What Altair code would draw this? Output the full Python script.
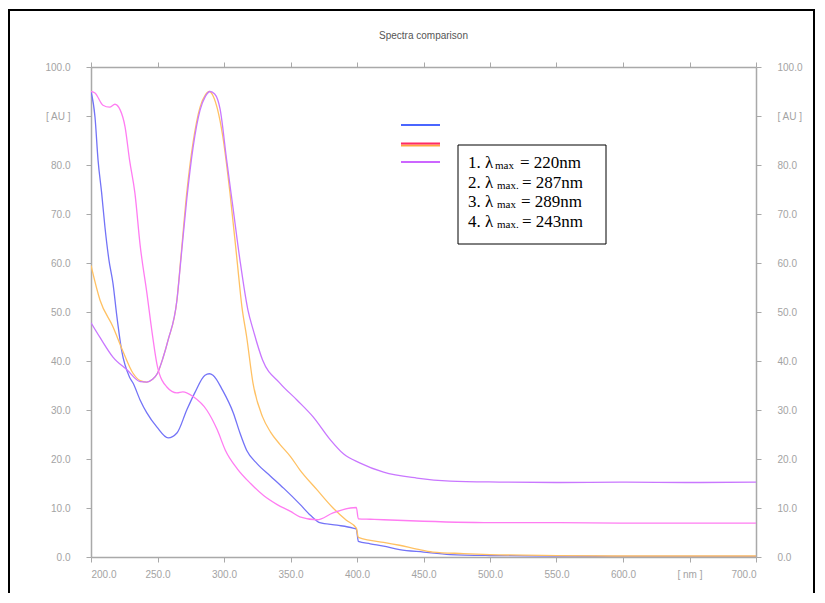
import altair as alt
import pandas as pd

# ---------------- data ----------------
series_names = ["1", "2", "3", "4"]
series_colors = ["#7373f7", "#ffc163", "#c977ff", "#ff7cf2"]

blue_nm = [200, 203, 205.3, 208, 210.5, 213.5, 216.5, 219.5, 223, 229, 231.6, 237, 242, 249.6,
           258, 264.6, 272, 278, 285.7, 289, 291.7, 299, 307, 312, 317, 325, 335, 345, 357, 365,
           372, 385, 397, 399.5, 401, 410, 420, 432, 450, 470, 500, 550, 600, 650, 700]
blue_val = [95, 89.8, 81, 74.3, 67.3, 60.6, 55.9, 49, 42.2, 36.7, 35.5, 32, 29.4, 26.5,
            24.3, 25.3, 30, 33.5, 37.1, 37.4, 37.1, 34, 29.4, 25.3, 21.8, 19, 16.5, 14, 10.8, 8.5,
            7, 6.5, 5.9, 5.7, 3.2, 2.7, 2.2, 1.5, 1.0, 0.5, 0.3, 0.2, 0.1, 0.1, 0.1]

orange_nm = [200, 206.8, 216.5, 224, 231.6, 237, 242, 246, 250, 254, 258, 264.6, 267.7, 272,
             276.7, 282, 286, 289, 292, 295, 299, 304.5, 309.8, 313.5, 317, 321.8, 329, 335, 342,
             350, 357, 370, 382, 392, 399.5, 401, 410, 420, 432, 445, 457, 480, 500, 550, 600,
             650, 700]
orange_val = [59.5, 52.4, 47, 42, 37.5, 36, 35.7, 36.2, 37.5, 40.5, 44.3, 52.4, 61.5, 74.3,
              84.5, 91.8, 94.3, 95, 94, 91.5, 86, 74.3, 60.6, 51, 45, 35.5, 28.6, 25.5, 23,
              20.5, 17.8, 13.7, 10, 7.5, 5.9, 4, 3.4, 3, 2.4, 1.6, 1.0, 0.7, 0.5, 0.3, 0.2,
              0.2, 0.2]

violet_nm = [200, 207, 216.5, 227, 237, 242, 246, 250, 254, 258, 264.6, 267.7, 272, 276.7, 282,
             286, 289.5, 293, 297, 302, 307, 312, 318, 322, 329, 342, 355, 367, 380, 390, 402,
             420, 445, 470, 507, 550, 600, 650, 700]
violet_val = [47.8, 44.7, 40.8, 38.2, 35.8, 35.7, 36.2, 37.5, 40.5, 44.3, 52.4, 61, 73, 83.5,
              91.2, 94, 95, 94.5, 91.5, 81, 70.8, 60.6, 50.4, 46.3, 40.2, 35.5, 32, 28.6, 23.9,
              21, 19.2, 17.3, 16.1, 15.5, 15.3, 15.2, 15.3, 15.2, 15.3]

pink_nm = [200, 203, 209, 214, 218, 222, 225.6, 229, 233, 237, 242, 246, 250, 257, 264.6, 269,
           277, 287, 295, 301, 310, 320, 330, 340, 350, 357, 370, 382, 395, 399.5, 401, 410,
           420, 450, 507, 550, 600, 650, 700]
pink_val = [95, 94.7, 92.2, 91.8, 92.4, 91.2, 87.8, 81, 74.3, 63.5, 53.9, 45.7, 38.8, 34.7,
            33.5, 33.7, 32.7, 30, 25.9, 21.8, 18, 15, 12.5, 10.7, 9.3, 8.2, 7.6, 9.0, 10, 10.1,
            7.8, 7.7, 7.6, 7.3, 7.0, 7.0, 6.9, 6.9, 6.9]

x_ticks = [200, 250, 300, 350, 400, 450, 500, 550, 600, 650, 700]
y_ticks = [0, 10, 20, 30, 40, 50, 60, 70, 80, 90, 100]

legend_prefix = ["1. λ", "2. λ", "3. λ", "4. λ"]
legend_sub = ["max", "max.", "max", "max."]
legend_value = ["= 220nm", "= 287nm", "= 289nm", "= 243nm"]
legend_line_colors = ["#4a66ff", "#ff2a66", "#cc66ff"]

title_text = "Spectra comparison"

# ---------------- build table ----------------
rows = []
for name, xs, ys in zip(series_names,
                        [blue_nm, orange_nm, violet_nm, pink_nm],
                        [blue_val, orange_val, violet_val, pink_val]):
    for i, (a, b) in enumerate(zip(xs, ys)):
        rows.append({"series": name, "nm": a, "val": b, "i": i})
df = pd.DataFrame(rows)

FONT = "Liberation Sans"
SERIF = "Liberation Serif"
AX_COL = "#a9a9a9"
LAB_COL = "#a3a3a3"

x_scale = alt.Scale(domain=[200, 700], nice=False, zero=False)
y_scale = alt.Scale(domain=[0, 100], nice=False, zero=True)

common = dict(grid=False, domainColor=AX_COL, tickColor=AX_COL, domainWidth=1.5, tickWidth=1,
              tickSize=5, labelColor=LAB_COL, labelFont=FONT, labelFontSize=10, title=None)

x_bottom = alt.Axis(orient="bottom", values=x_ticks, labelPadding=7,
                    labelExpr="datum.value == 650 ? '[ nm ]' : format(datum.value, '.1f')", **common)
y_left = alt.Axis(orient="left", values=y_ticks, labelPadding=16,
                  labelExpr="datum.value == 90 ? '[ AU ]' : format(datum.value, '.1f')", **common)
x_top = alt.Axis(orient="top", values=x_ticks, labels=False, **common)
y_right = alt.Axis(orient="right", values=y_ticks, labelPadding=16,
                   labelExpr="datum.value == 90 ? '[ AU ]' : format(datum.value, '.1f')", **common)

color = alt.Color("series:N", scale=alt.Scale(domain=series_names, range=series_colors), legend=None)

lines = alt.Chart(df).mark_line(strokeWidth=1.3, clip=True, interpolate="monotone").encode(
    x=alt.X("nm:Q", scale=x_scale, axis=x_bottom),
    y=alt.Y("val:Q", scale=y_scale, axis=y_left),
    color=color,
    order="i:Q",
)

ghost = alt.Chart(df).mark_line(opacity=0).encode(
    x=alt.X("nm:Q", scale=x_scale, axis=x_top),
    y=alt.Y("val:Q", scale=y_scale, axis=y_right),
    detail="series:N",
)

one = pd.DataFrame({"k": [0]})

frame = alt.Chart(one).mark_rect(fillOpacity=0, stroke="black", strokeWidth=2).encode(
    x=alt.value(-82), x2=alt.value(723), y=alt.value(-57), y2=alt.value(620)
)

title = alt.Chart(one).mark_text(
    text=title_text, font=FONT, fontSize=10, color="#555555", align="center", baseline="middle"
).encode(x=alt.value(332.5), y=alt.value(-31))

# legend swatches
leg_layers = []
leg_y = [58, 76.5, 95]
leg_layers.append(alt.Chart(one).mark_rule(color=legend_line_colors[0], strokeWidth=2).encode(
    x=alt.value(310), x2=alt.value(349), y=alt.value(leg_y[0])))
leg_layers.append(alt.Chart(one).mark_rule(color="#ffa640", strokeWidth=2).encode(
    x=alt.value(310), x2=alt.value(349), y=alt.value(78.5)))
leg_layers.append(alt.Chart(one).mark_rule(color=legend_line_colors[1], strokeWidth=2).encode(
    x=alt.value(310), x2=alt.value(349), y=alt.value(leg_y[1])))
leg_layers.append(alt.Chart(one).mark_rule(color=legend_line_colors[2], strokeWidth=2).encode(
    x=alt.value(310), x2=alt.value(349), y=alt.value(leg_y[2])))

box = alt.Chart(one).mark_rect(fill="white", stroke="black", strokeWidth=1).encode(
    x=alt.value(367), x2=alt.value(515), y=alt.value(78), y2=alt.value(177)
)

text_layers = []
baselines = [101, 120.5, 140, 159.5]
sub_x = [404, 406, 406, 406]
val_x = [429, 431, 430, 431]
for k in range(4):
    text_layers.append(alt.Chart(one).mark_text(
        text=legend_prefix[k], font=SERIF, fontSize=17, align="left", baseline="alphabetic",
        color="black").encode(x=alt.value(377), y=alt.value(baselines[k])))
    text_layers.append(alt.Chart(one).mark_text(
        text=legend_sub[k], font=SERIF, fontSize=11, align="left", baseline="alphabetic",
        color="black").encode(x=alt.value(sub_x[k]), y=alt.value(baselines[k] + 1)))
    text_layers.append(alt.Chart(one).mark_text(
        text=legend_value[k], font=SERIF, fontSize=17, align="left", baseline="alphabetic",
        color="black").encode(x=alt.value(val_x[k]), y=alt.value(baselines[k])))

chart = alt.layer(
    frame, title, lines, ghost, *leg_layers, box, *text_layers
).resolve_axis(
    x="independent", y="independent"
).properties(
    width=665,
    height=490,
    autosize=alt.AutoSizeParams(type="none"),
    padding={"left": 83, "top": 59, "right": 59, "bottom": 36},
    background="white",
).configure_view(strokeWidth=0)

chart.save("out.html", embed_options={"renderer": "svg", "actions": False})
